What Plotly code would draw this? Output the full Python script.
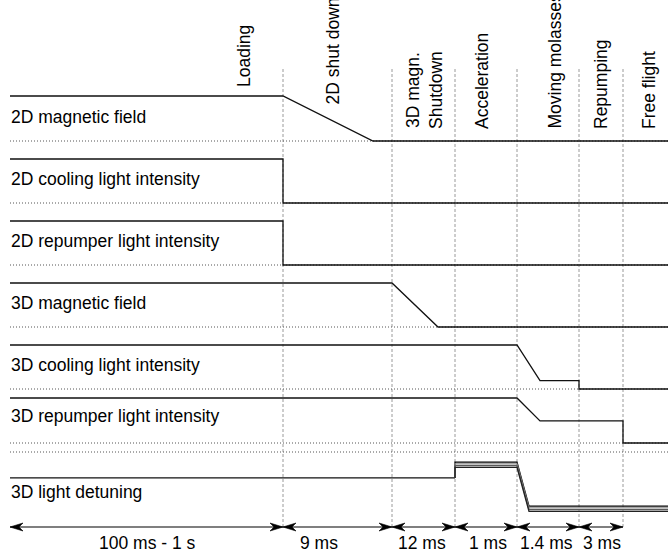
import plotly.graph_objects as go

# ---- sequence phases on a schematic time axis ----
phase_edges = [10, 283, 392, 455, 517, 579, 623]
t_end = 668
phase_names = ["Loading", "2D shut down", "3D magn.<br>Shutdown", "Acceleration",
               "Moving molasses", "Repumping", "Free flight"]
durations = ["100 ms - 1 s", "9 ms", "12 ms", "1 ms", "1.4 ms", "3 ms"]

# ---- control signals: times and normalised levels (1 = on, 0 = off) ----
row_labels = ["2D magnetic field", "2D cooling light intensity",
              "2D repumper light intensity", "3D magnetic field",
              "3D cooling light intensity", "3D repumper light intensity",
              "3D light detuning"]

field2d_t = [10, 283, 373, t_end]
field2d_v = [1, 1, 0, 0]
cool2d_t = [10, 283, 283, t_end]
cool2d_v = [1, 1, 0, 0]
rep2d_t = [10, 283, 283, t_end]
rep2d_v = [1, 1, 0, 0]
field3d_t = [10, 392, 438, t_end]
field3d_v = [1, 1, 0, 0]
cool3d_t = [10, 517, 540, 579, 579, t_end]
cool3d_v = [1, 1, 0.19, 0.19, 0, 0]
rep3d_t = [10, 517, 540, 623, 623, t_end]
rep3d_v = [1, 1, 0.49, 0.49, 0, 0]

# detuning: loading value, then a family of acceleration / molasses settings
detuning_t = [10, 455]
detuning_v = [-0.59, -0.59]
det_family_t = [455, 455, 517, 529, t_end]
det_accel = [-0.23, -0.27, -0.31, -0.35]
det_molasses = [-1.23, -1.27, -1.31, -1.35]

waves = [(field2d_t, field2d_v), (cool2d_t, cool2d_v), (rep2d_t, rep2d_v),
         (field3d_t, field3d_v), (cool3d_t, cool3d_v), (rep3d_t, rep3d_v)]

# ---- drawing geometry ----
row_base = [141, 203, 265, 327, 389, 443, 452]
row_amp = [45, 44, 44, 44, 44, 45, 44]
label_baseline = [123, 185, 247, 309, 371, 422, 498]
phase_label_x = [244, 332, 424, 482, 554, 601, 649]
phase_label_bottom = [89, 107, 131, 131, 131, 131, 131]
dur_label_x = [147, 319, 422, 488, 546, 602]
arrow_y = 527
FONT = dict(family="Liberation Sans, Arial, sans-serif", size=17.5, color="#000")
INK = "#111111"


def to_y(row, v):
    return [row_base[row] - x * row_amp[row] for x in v]


fig = go.Figure()


def line(x, y, color=INK, width=1.3, dash="solid"):
    fig.add_trace(go.Scatter(x=x, y=y, mode="lines", hoverinfo="skip",
                             line=dict(color=color, width=width, dash=dash)))


# phase separators
for e in phase_edges[1:]:
    line([e, e], [69, arrow_y], color="#9a9a9a", width=1, dash="3px,2px")

# zero-level reference for each signal
for r in range(len(row_labels)):
    line([10, t_end], [row_base[r], row_base[r]], color="#555", width=1, dash="1px,2px")

# signal waveforms
for r, (t, v) in enumerate(waves):
    line(t, to_y(r, v))

d = len(row_labels) - 1
line(detuning_t, to_y(d, detuning_v))
family_colors = ["#000000", "#8a8a8a", "#5a5a5a", "#222222"]
for a, m, c in zip(det_accel, det_molasses, family_colors):
    line(det_family_t, to_y(d, [detuning_v[-1], a, a, m, m]), color=c, width=1.3)

# duration arrows
line([phase_edges[0], phase_edges[-1]], [arrow_y, arrow_y], color="#000", width=1.2)
L, HW, NOTCH = 13, 4, 9
for a, b in zip(phase_edges[:-1], phase_edges[1:]):
    for tip, s in ((a, 1), (b, -1)):
        fig.add_trace(go.Scatter(
            x=[tip, tip + s * L, tip + s * NOTCH, tip + s * L, tip],
            y=[arrow_y, arrow_y - HW, arrow_y, arrow_y + HW, arrow_y],
            mode="lines", fill="toself", fillcolor="#000",
            line=dict(color="#000", width=0.6), hoverinfo="skip"))

annotations = []
for r, name in enumerate(row_labels):
    annotations.append(dict(x=9, y=label_baseline[r] - 6, text=name, showarrow=False,
                            xanchor="left", yanchor="middle", font=FONT))
for name, x, yb in zip(phase_names, phase_label_x, phase_label_bottom):
    annotations.append(dict(x=x, y=yb, text=name, showarrow=False, textangle=-90,
                            xanchor="center", yanchor="bottom", font=FONT))
for txt, x in zip(durations, dur_label_x):
    annotations.append(dict(x=x, y=549 - 6, text=txt, showarrow=False,
                            xanchor="center", yanchor="middle", font=FONT))

fig.update_layout(
    width=668, height=560,
    margin=dict(l=0, r=0, t=0, b=0),
    paper_bgcolor="white", plot_bgcolor="white",
    showlegend=False,
    xaxis=dict(range=[0, 668], visible=False, fixedrange=True),
    yaxis=dict(range=[560, 0], visible=False, fixedrange=True),
    annotations=annotations,
)

fig.write_html("out.html", config={"displayModeBar": False})
